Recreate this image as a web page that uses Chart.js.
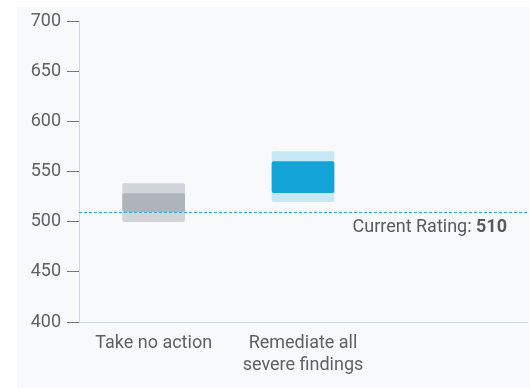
<!DOCTYPE html>
<html>
<head>
<meta charset="utf-8">
<script src="https://cdn.jsdelivr.net/npm/chart.js@4"></script>
<style>
  html, body { margin: 0; padding: 0; background: #ffffff; }
  #panel { position: absolute; left: 17px; top: 7px; width: 513px; height: 381px; background: #f8f9fa; }
</style>
</head>
<body>
<div id="panel"><canvas id="ratingChart"></canvas></div>
<script>
const categories = ["Take no action", ["Remediate all", "severe findings"], ""]
const outerLow = [500, 520, null]
const outerHigh = [538, 570, null]
const innerLow = [510, 529, null]
const innerHigh = [528, 560, null]
const yTicks = [400, 450, 500, 550, 600, 650, 700]
const currentRating = 510

const textColor = "#616161"

// ligne pointillée + texte "Current Rating"
const ratingLine = {
  id: "ratingLine",
  afterDatasetsDraw(chart) {
    const { ctx, chartArea, scales } = chart
    const y = Math.round(scales.y.getPixelForValue(currentRating)) + 0.5
    ctx.save()
    ctx.strokeStyle = "#2aa9e0"
    ctx.lineWidth = 1
    ctx.setLineDash([3, 2])
    ctx.beginPath()
    ctx.moveTo(chartArea.left, y)
    ctx.lineTo(chartArea.right, y)
    ctx.stroke()
    ctx.setLineDash([])
    ctx.textBaseline = "middle"
    ctx.fillStyle = "#555b61"
    ctx.font = "bold 18px Roboto"
    const num = String(currentRating)
    const numW = ctx.measureText(num).width
    const xRight = chartArea.right - 20
    ctx.textAlign = "right"
    ctx.fillText(num, xRight, y + 15)
    ctx.font = "18px Roboto"
    ctx.fillText("Current Rating: ", xRight - numW, y + 15)
    ctx.restore()
  },
}

function rangeData(low, high) {
  return low.map((v, i) => (v === null ? null : [v, high[i]]))
}

const ctx = document.getElementById("ratingChart").getContext("2d")
new Chart(ctx, {
  type: "bar",
  data: {
    labels: categories,
    datasets: [
      {
        label: "inner",
        data: rangeData(innerLow, innerHigh),
        backgroundColor: ["#adb4ba", "#14a3d6"],
        borderRadius: 2,
        borderSkipped: false,
        grouped: false,
        barThickness: 62,
        order: 0,
      },
      {
        label: "outer",
        data: rangeData(outerLow, outerHigh),
        backgroundColor: ["#d1d5da", "#c7e9f7"],
        borderRadius: 2,
        borderSkipped: false,
        grouped: false,
        barThickness: 62,
        order: 1,
      },
    ],
  },
  options: {
    responsive: true,
    maintainAspectRatio: false,
    animation: false,
    layout: { padding: { top: 3, right: 3, left: 0, bottom: 0 } },
    plugins: { legend: { display: false }, tooltip: { enabled: false } },
    scales: {
      x: {
        grid: { display: false },
        border: { display: true, color: "#cfd6e4", width: 1 },
        ticks: { color: textColor, font: { family: "Roboto", size: 18, lineHeight: 1.22 }, padding: 3, maxRotation: 0, autoSkip: false },
        afterFit(scale) { scale.height = 66 },
      },
      y: {
        min: 400,
        max: 700,
        afterBuildTicks(scale) { scale.ticks = yTicks.map((v) => ({ value: v })) },
        grid: { drawOnChartArea: false, color: "#757575", tickLength: 12 },
        border: { display: true, color: "#cfd6e4", width: 1 },
        ticks: { color: textColor, font: { family: "Roboto", size: 18, lineHeight: 0.9 }, padding: 6 },
        afterFit(scale) { scale.width = 62 },
      },
    },
  },
  plugins: [ratingLine],
})
</script>
</body>
</html>
